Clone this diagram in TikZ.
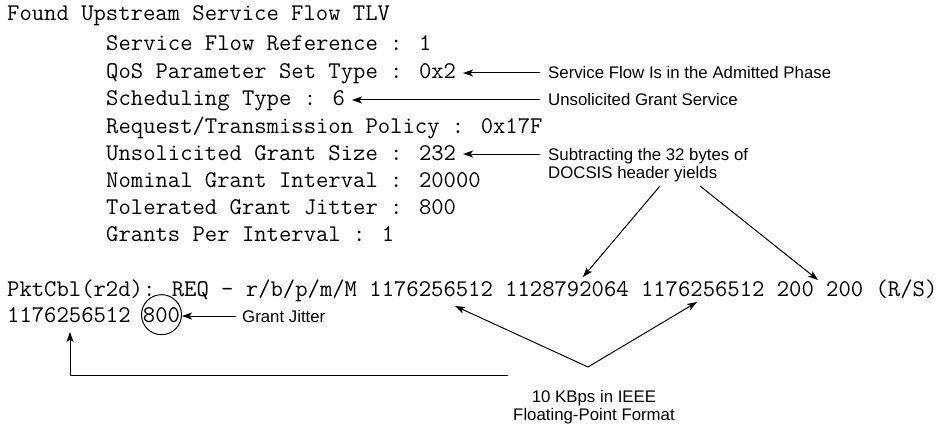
\documentclass[tikz,border=0pt]{standalone}
\usepackage{fontspec}
\usetikzlibrary{arrows.meta}
\newfontfamily\notefont{Liberation Sans}
\begin{document}
\begin{tikzpicture}[x=1pt,y=-1pt,
  code/.style={inner sep=0pt,anchor=base west,font=\ttfamily\fontsize{23.98}{26}\selectfont},
  note/.style={inner sep=0pt,anchor=base west,font=\notefont\fontsize{16.8}{19}\selectfont},
  notec/.style={inner sep=0pt,anchor=base,font=\notefont\fontsize{16.8}{19}\selectfont},
  pointer/.style={line width=1pt,-{Stealth[length=10pt,width=7pt,inset=2.5pt]}},
  plain/.style={line width=1pt}]
\useasboundingbox (0,0) rectangle (938,428);

% service flow dump
\node[code] (found) at (7,21) {Found Upstream Service Flow TLV};
\node[code] (sfref) at (106,51) {Service Flow Reference : 1};
\node[code] (qos)   at (106,79) {QoS Parameter Set Type : 0x2};
\node[code] (sched) at (106,106) {Scheduling Type : 6};
\node[code] (req)   at (106,133) {Request/Transmission Policy : 0x17F};
\node[code] (ugs)   at (106,160) {Unsolicited Grant Size : 232};
\node[code] (nom)   at (106,187) {Nominal Grant Interval : 20000};
\node[code] (tol)   at (106,214) {Tolerated Grant Jitter : 800};
\node[code] (gpi)   at (106,241) {Grants Per Interval : 1};

% PacketCable request
\node[code] (pkt1) at (7,296) {PktCbl(r2d): REQ - r/b/p/m/M 1176256512 1128792064 1176256512 200 200 (R/S)};
\node[code] (pkt2) at (7,322) {1176256512};
\node[code,anchor=base,circle,draw,line width=1pt,minimum size=39pt,inner sep=0pt] (ring) at (161.5,322) {800};

% annotations
\node[note] (nPhase) at (548,79) {Service Flow Is in the Admitted Phase};
\node[note] (nUgs)   at (548,106) {Unsolicited Grant Service};
\node[note] (nSub1)  at (548,160) {Subtracting the 32 bytes of};
\node[note] (nSub2)  at (548,178) {DOCSIS header yields};
\node[note] (nJit)   at (242,322) {Grant Jitter};
\node[notec] (nIeee1) at (594,402) {10 KBps in IEEE};
\node[notec] (nIeee2) at (594,420) {Floating-Point Format};

% arrow ends
\coordinate (tPhase) at (540,73);
\coordinate (hPhase) at (463,73);
\coordinate (tUgs)   at (540,100);
\coordinate (hUgs)   at (352,100);
\coordinate (tSub)   at (540,154);
\coordinate (hSub)   at (463,154);
\coordinate (sA)     at (660,186);
\coordinate (hA)     at (583,277);
\coordinate (sB)     at (700,186);
\coordinate (hB)     at (818,280);
\coordinate (tJit)   at (236,316);
\coordinate (apex)   at (588,367);
\coordinate (hL)     at (455,306);
\coordinate (hR)     at (697,302);
\coordinate (tLong)  at (508,375);
\coordinate (bend)   at (70,375);
\coordinate (hUp)    at (70,332);

\draw[pointer] (tPhase) -- (hPhase);
\draw[pointer] (tUgs) -- (hUgs);
\draw[pointer] (tSub) -- (hSub);
\draw[pointer] (sA) -- (hA);
\draw[pointer] (sB) -- (hB);
\draw[pointer] (tJit) -- (ring.east |- tJit);
\draw[pointer] (apex) -- (hL);
\draw[pointer] (apex) -- (hR);
\draw[pointer] (tLong) -- (bend) -- (hUp);
\end{tikzpicture}
\end{document}
